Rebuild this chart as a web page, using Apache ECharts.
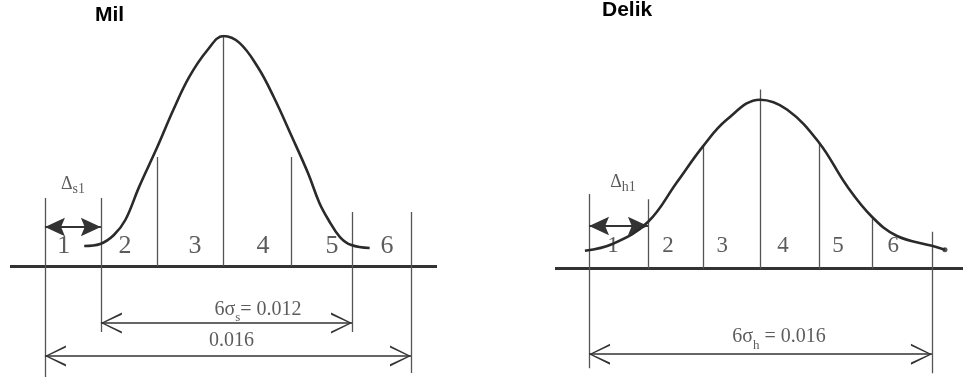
<!DOCTYPE html>
<html>
<head>
<meta charset="utf-8">
<script src="https://cdn.jsdelivr.net/npm/echarts@6/dist/echarts.min.js"></script>
<style>
  html, body { margin: 0; padding: 0; background: #fff; }
  #chart { width: 963px; height: 383px; }
</style>
</head>
<body>
<div id="chart"></div>
<script>
// Zone numbers shown under each curve
const zoneNames = ['1', '2', '3', '4', '5', '6'];

// Shaft ("Mil"): x = deviation from the mean (µm), y = relative frequency
const shaftCurve = [
  [-6.1, 0.087], [-5.4, 0.096], [-4.8, 0.135], [-4.3, 0.200], [-3.7, 0.343],
  [-2.9, 0.517], [-2.2, 0.678], [-1.5, 0.822], [-0.7, 0.939], [0, 1.000],
  [0.7, 0.970], [1.5, 0.865], [2.2, 0.735], [3.0, 0.561], [3.7, 0.404],
  [4.2, 0.274], [4.6, 0.200], [5.1, 0.126], [5.6, 0.091], [6.4, 0.078]
];
// zone boundaries: [x, top, bottom]
const shaftGuides = [
  [-7.82, 0.296, -0.483], [-5.37, 0.296, -0.287], [-2.91, 0.474, 0],
  [0, 1.0, 0], [2.96, 0.474, 0], [5.63, 0.235, -0.287], [8.21, 0.235, -0.465]
];
const shaftZoneX = [-7.0, -4.31, -1.25, 1.73, 4.75, 7.16];
const shaftOffset = [-7.82, -5.37];   // Δs1
const shaftSpread = [-5.37, 5.63];    // 6σs = 0.012
const shaftTolerance = [-7.82, 8.21]; // 0.016

// Hole ("Delik")
const holeCurve = [
  [-7.67, 0.078], [-6.44, 0.109], [-4.91, 0.204], [-3.64, 0.378], [-2.50, 0.535],
  [-1.45, 0.652], [0, 0.739], [1.18, 0.696], [2.58, 0.552], [3.81, 0.361],
  [4.91, 0.226], [6.00, 0.143], [7.53, 0.100], [8.10, 0.083]
];
const holeGuides = [
  [-7.49, 0.326, -0.435], [-4.91, 0.304, 0], [-2.50, 0.535, 0],
  [0, 0.783, 0], [2.58, 0.552, 0], [4.91, 0.217, 0], [7.53, 0.161, -0.457]
];
const holeZoneX = [-6.44, -4.03, -1.66, 1.01, 3.42, 5.83];
const holeOffset = [-7.49, -4.91];   // Δh1
const holeSpread = [-7.49, 7.53];    // 6σh = 0.016

const INK = '#2a2a2a';
const GUIDE = '#555';
const SERIF = '"Liberation Serif", "DejaVu Serif", serif';
const SANS = '"Liberation Sans", Arial, sans-serif';

// Arrowheads in a square box; the tip sits at the box centre so it lands on the end point
const solidHead = 'path://M0,0 L0.01,0 Z M26,26 L25.99,26 Z M13,13 L19,26 L13,23.5 L7,26 Z';
const openHead = 'path://M0,0 L0.01,0 Z M30,30 L29.99,30 Z M15,15 L22.5,30 L21,30 L15,17 L9,30 L7.5,30 Z';

function guideSeries(idx, guides) {
  return {
    type: 'lines', coordinateSystem: 'cartesian2d', xAxisIndex: idx, yAxisIndex: idx,
    symbol: 'none', silent: true,
    lineStyle: { color: GUIDE, width: 1.3, opacity: 1 },
    data: guides.map(g => ({ coords: [[g[0], g[1]], [g[0], g[2]]] }))
  };
}
function baseSeries(idx, xmin, xmax) {
  return {
    type: 'lines', coordinateSystem: 'cartesian2d', xAxisIndex: idx, yAxisIndex: idx,
    symbol: 'none', silent: true,
    lineStyle: { color: '#333', width: 3, opacity: 1 },
    data: [{ coords: [[xmin, 0], [xmax, 0]] }]
  };
}
function dimSeries(idx, span, level, head, size, width) {
  return {
    type: 'lines', coordinateSystem: 'cartesian2d', xAxisIndex: idx, yAxisIndex: idx,
    symbol: [head, head], symbolSize: size, silent: true,
    lineStyle: { color: '#333', width: width, opacity: 1 },
    itemStyle: { color: '#333' },
    data: [{ coords: [[span[0], level], [span[1], level]] }]
  };
}
function curveSeries(idx, pts) {
  return {
    type: 'line', xAxisIndex: idx, yAxisIndex: idx, smooth: 0.4,
    showSymbol: false, silent: true,
    lineStyle: { color: INK, width: 2.6 },
    data: pts
  };
}
function textSeries(idx, items, size) {
  return {
    type: 'scatter', xAxisIndex: idx, yAxisIndex: idx, symbolSize: 0, silent: true,
    label: {
      show: true, position: 'inside', color: '#333', fontFamily: SERIF, fontSize: size,
      formatter: p => p.name,
      rich: {
        m: { fontFamily: SERIF, fontSize: 20, lineHeight: 20, verticalAlign: 'top', color: '#333' },
        s: { fontFamily: SERIF, fontSize: 13, lineHeight: 25, verticalAlign: 'bottom', color: '#333' },
        d: { fontFamily: SERIF, fontSize: 18, lineHeight: 18, verticalAlign: 'top', color: '#333' },
        ds: { fontFamily: SERIF, fontSize: 14, lineHeight: 21, verticalAlign: 'bottom', color: '#333' }
      }
    },
    data: items
  };
}

const option = {
  animation: false,
  backgroundColor: '#fff',
  title: [
    { text: 'Mil', left: 95, top: 5, padding: 0, textStyle: { fontFamily: SANS, fontWeight: 'bold', fontSize: 21, color: '#000' } },
    { text: 'Delik', left: 602, top: 0, padding: 0, textStyle: { fontFamily: SANS, fontWeight: 'bold', fontSize: 21, color: '#000' } }
  ],
  grid: [
    { left: 10, top: 36, width: 427, height: 345 },
    { left: 555, top: 40, width: 408, height: 345 }
  ],
  xAxis: [
    { type: 'value', gridIndex: 0, min: -9.35, max: 9.35, show: false },
    { type: 'value', gridIndex: 1, min: -8.98, max: 8.89, show: false }
  ],
  yAxis: [
    { type: 'value', gridIndex: 0, min: -0.5, max: 1, show: false },
    { type: 'value', gridIndex: 1, min: -0.5, max: 1, show: false }
  ],
  series: [
    // shaft
    baseSeries(0, -9.35, 9.35),
    guideSeries(0, shaftGuides),
    curveSeries(0, shaftCurve),
    dimSeries(0, shaftOffset, 0.170, solidHead, 40, 2),
    dimSeries(0, shaftSpread, -0.248, openHead, 42, 1.6),
    dimSeries(0, shaftTolerance, -0.391, openHead, 42, 1.6),
    textSeries(0, zoneNames.map((n, i) => ({ name: n, value: [shaftZoneX[i], 0.087] })), 26),
    textSeries(0, [
      { name: '{d|Δ}{ds|s1}', value: [-6.59, 0.35] },
      { name: '{m|6σ}{s|s}{m|= 0.012}', value: [1.51, -0.20] },
      { name: '0.016', value: [0.35, -0.326] }
    ], 20),
    // hole
    baseSeries(1, -8.98, 8.89),
    guideSeries(1, holeGuides),
    curveSeries(1, holeCurve),
    {
      type: 'scatter', xAxisIndex: 1, yAxisIndex: 1, symbolSize: 5, silent: true,
      itemStyle: { color: INK }, data: [holeCurve[holeCurve.length - 1]]
    },
    dimSeries(1, holeOffset, 0.187, solidHead, 40, 2),
    dimSeries(1, holeSpread, -0.374, openHead, 42, 1.6),
    textSeries(1, zoneNames.map((n, i) => ({ name: n, value: [holeZoneX[i], 0.1] })), 23),
    textSeries(1, [
      { name: '{d|Δ}{ds|h1}', value: [-6.0, 0.372] },
      { name: '{m|6σ}{s|h}{m| = 0.016}', value: [0.83, -0.31] }
    ], 20)
  ]
};

const chart = echarts.init(document.getElementById('chart'), null, { renderer: 'canvas' });
chart.setOption(option);
</script>
</body>
</html>
